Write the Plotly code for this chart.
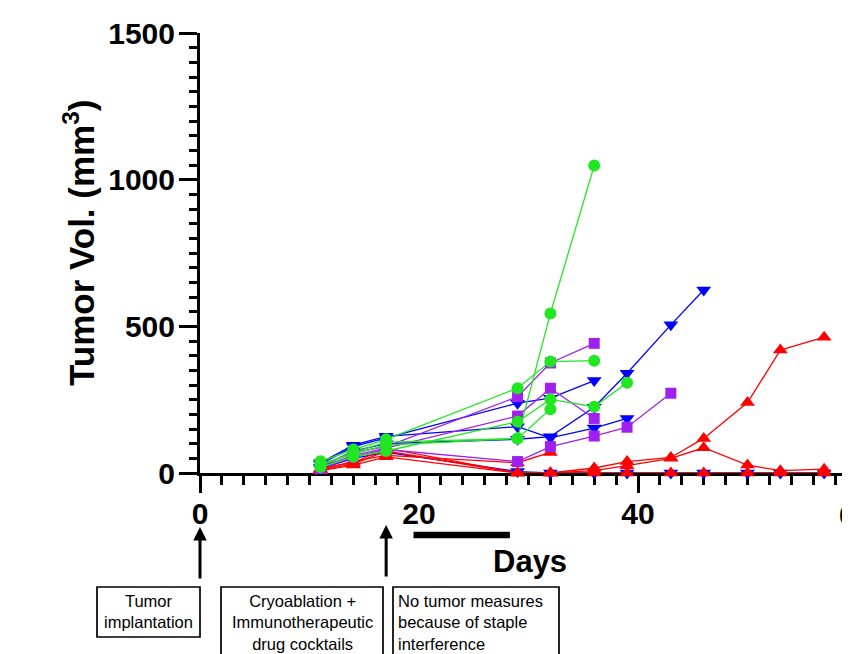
import plotly.graph_objects as go

# ---------------- data ----------------
days = [11, 14, 17, 29, 32, 36, 39, 43, 46, 50, 53, 57]

# green circles
green_1 = [30, 65, 95, 118, 544, 1048]
green_2 = [40, 80, 115, 289, 380, 383]
green_3 = [20, 55, 75, 175, 251, 226, 308]
green_4 = [25, 70, 105, 118, 217]

# purple squares
purple_1 = [25, 70, 90, 260, 375, 442]
purple_2 = [20, 60, 85, 194, 289, 186]
purple_3 = [15, 55, 80, 39, 90, 126, 156, 272]

# blue down-triangles
blue_1 = [30, 90, 120, 238, 255, 315]
blue_2 = [20, 75, 100, 115, 124, 224, 340, 505, 624]
blue_3 = [35, 95, 125, 158, 120, 153, 186]
blue_4 = [15, 50, 70, 5, 0, 0, 0, 0, 0, 0, 0, 0]

# red up-triangles
red_1 = [10, 30, 75, 0, 0, 17, 39, 53, 118, 240, 419, 463]
red_2 = [15, 35, 85, 0, 0, 8, 25, 50, 86, 27, 8, 13]
red_3 = [12, 40, 60, 35, 70]
red_4 = [8, 27, 55, 0, 0, 0, 0, 0, 0, 0, 0, 0]

y_ticks = [0, 500, 1000, 1500]
x_ticks = [0, 20, 40]
x_tick_labels = ["0", "20", "40"]

# ---------------- style ----------------
FONT = "Liberation Sans, Arial, sans-serif"
GREEN = "#22e622"
PURPLE = "#a020f0"
BLUE = "#0000ff"
RED = "#ff0000"

groups = [
    (BLUE, "triangle-down", 13, [blue_1, blue_2, blue_3, blue_4]),
    (RED, "triangle-up", 13, [red_1, red_2, red_3, red_4]),
    (PURPLE, "square", 11, [purple_1, purple_2, purple_3]),
    (GREEN, "circle", 12, [green_1, green_2, green_3, green_4]),
]

fig = go.Figure()
for color, symbol, size, series in groups:
    for vals in series:
        fig.add_trace(go.Scatter(
            x=days[:len(vals)], y=vals, mode="lines+markers",
            line=dict(color=color, width=1.3),
            marker=dict(color=color, symbol=symbol, size=size, line=dict(width=0)),
            cliponaxis=False, showlegend=False, hoverinfo="skip",
        ))

PX_PER_DAY = 10.95
PLOT_W = 650
x_max = PLOT_W / PX_PER_DAY

# page body has an 8px margin; compensate so the plot sits where the reference has it
fig.update_layout(
    width=842, height=646,
    margin=dict(l=192, r=0, t=25, b=181, pad=0),
    paper_bgcolor="white", plot_bgcolor="white",
    font=dict(family=FONT, color="black"),
    showlegend=False,
)

fig.update_xaxes(
    range=[0, x_max], showgrid=False, zeroline=False,
    showline=True, linecolor="black", linewidth=3,
    tickvals=x_ticks, ticktext=x_tick_labels,
    ticks="outside", ticklen=17, tickwidth=3, tickcolor="black",
    tickfont=dict(size=30, weight="bold", family=FONT, color="black"),
    ticklabelstandoff=-5,
    minor=dict(dtick=2, tick0=0, ticks="outside", ticklen=9, tickwidth=2.5, tickcolor="black"),
    layer="below traces",
)
fig.update_yaxes(
    range=[0, 1500], showgrid=False, zeroline=False,
    showline=True, linecolor="black", linewidth=3,
    tickvals=y_ticks,
    ticks="outside", ticklen=18, tickwidth=3, tickcolor="black",
    tickfont=dict(size=30, weight="bold", family=FONT, color="black"),
    ticklabelstandoff=-2,
    minor=dict(dtick=50, tick0=0, ticks="outside", ticklen=8, tickwidth=2.5, tickcolor="black"),
    layer="below traces",
)

# helpers: reference-image pixel -> paper coords (plot area 200..850 x 33..473)
def py(pix):
    return (473 - pix) / 440.0

def px(pix):
    return (pix - 200) / 650.0

annotations = []
annotations.append(dict(
    text="Tumor Vol. (mm<sup>3</sup>)", textangle=-90,
    x=px(79), y=py(243), xref="paper", yref="paper",
    xanchor="center", yanchor="middle", showarrow=False,
    font=dict(size=35, weight="bold", family=FONT, color="black"),
))
annotations.append(dict(
    text="60", x=px(855), y=py(514), xref="paper", yref="paper",
    xanchor="center", yanchor="middle", showarrow=False,
    font=dict(size=30, weight="bold", family=FONT, color="black"),
))
annotations.append(dict(
    text="Days", x=px(530), y=py(561), xref="paper", yref="paper",
    xanchor="center", yanchor="middle", showarrow=False,
    font=dict(size=31, weight="bold", family=FONT, color="black"),
))
for day, tip, tail in [(0, 527, 580), (17, 525, 578)]:
    annotations.append(dict(
        text="", x=day, y=py(tip), xref="x", yref="paper",
        ax=0, ay=tail - tip, axref="pixel", ayref="pixel",
        showarrow=True, arrowhead=2, arrowwidth=3, arrowsize=0.9,
        arrowcolor="black", standoff=0,
    ))
BOX_FONT = dict(size=16.5, family=FONT, color="black")
annotations.append(dict(
    text="Tumor<br>implantation", x=px(148.5), y=py(590), xref="paper", yref="paper",
    xanchor="center", yanchor="top", align="center", showarrow=False, font=BOX_FONT,
))
annotations.append(dict(
    text="Cryoablation +<br>Immunotherapeutic<br>drug cocktails", x=px(302), y=py(590),
    xref="paper", yref="paper", xanchor="center", yanchor="top", align="center",
    showarrow=False, font=BOX_FONT,
))
annotations.append(dict(
    text="No tumor measures<br>because of staple<br>interference", x=px(396), y=py(590),
    xref="paper", yref="paper", xanchor="left", yanchor="top", align="left",
    showarrow=False, font=BOX_FONT,
))
fig.update_layout(annotations=annotations)

shapes = []
for x0, x1, y0, y1 in [(97, 200, 587, 637), (221, 383, 587, 700), (393, 559, 587, 700)]:
    shapes.append(dict(
        type="rect", xref="paper", yref="paper",
        x0=px(x0), x1=px(x1), y0=py(y0), y1=py(y1),
        line=dict(color="black", width=1.7), fillcolor="rgba(0,0,0,0)",
    ))
shapes.append(dict(
    type="line", xref="x", yref="paper", x0=19.5, x1=28.3, y0=py(535), y1=py(535),
    line=dict(color="black", width=6.5),
))
fig.update_layout(shapes=shapes)

fig.write_html("out.html")
